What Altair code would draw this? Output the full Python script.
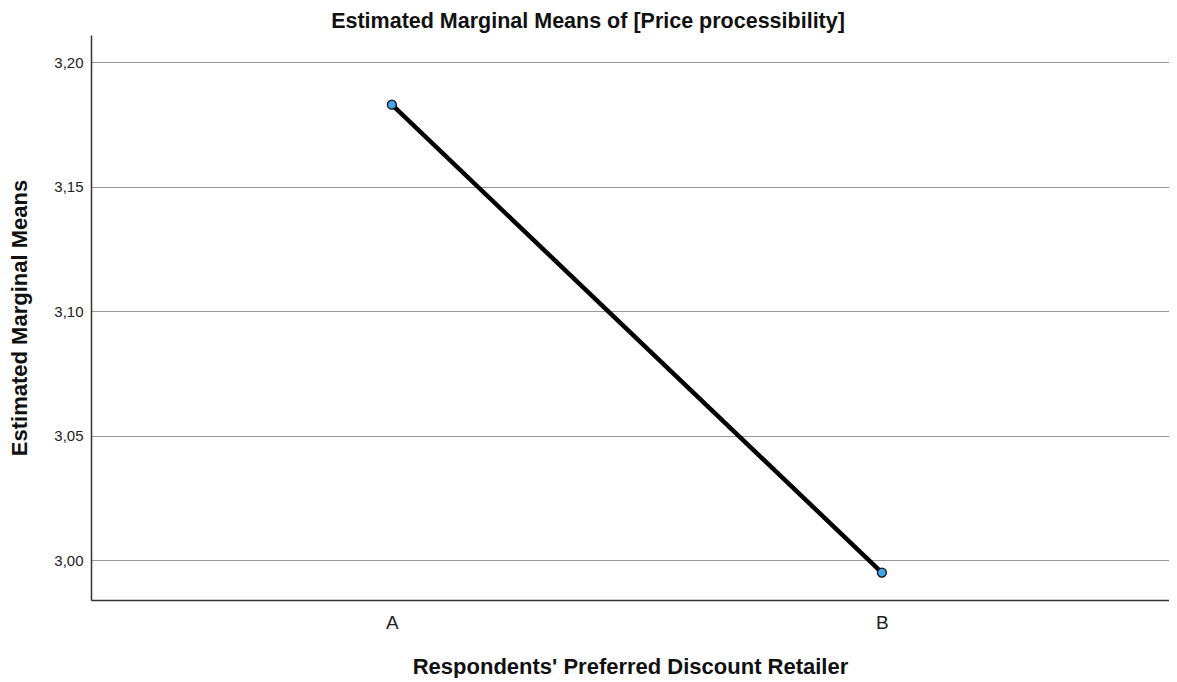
import altair as alt
import pandas as pd

retailers = ["A", "B"]
means = [3.183, 2.995]

df = pd.DataFrame({"retailer": retailers, "mean": means})

W, H = 1078, 565
FONT = "Liberation Sans"

cat_array = "[" + ",".join(f"'{r}'" for r in retailers) + "]"
label_expr = cat_array + "[datum.value]"

x_enc = alt.X("idx:Q",
              scale=alt.Scale(domain=[-0.614, 1.586], nice=False, zero=False),
              axis=alt.Axis(title="Respondents' Preferred Discount Retailer",
                            values=list(range(len(retailers))),
                            labelExpr=label_expr,
                            labelAngle=0, labelFontSize=19, labelFont=FONT,
                            labelColor="#222", labelPadding=13,
                            titleFontSize=22, titleFont=FONT, titleFontWeight="bold",
                            titleColor="#111", titlePadding=24,
                            domain=True, domainColor="#333", domainWidth=1.5,
                            ticks=False, grid=False))
y_enc = alt.Y("mean:Q",
              scale=alt.Scale(domain=[2.984, 3.211], nice=False, zero=False),
              axis=alt.Axis(title="Estimated Marginal Means",
                            values=[3.00, 3.05, 3.10, 3.15, 3.20],
                            labelExpr="replace(format(datum.value, '.2f'), '.', ',')",
                            labelFontSize=15, labelFont=FONT, labelColor="#222",
                            labelPadding=8,
                            titleFontSize=22, titleFont=FONT, titleFontWeight="bold",
                            titleColor="#111", titlePadding=22,
                            domain=True, domainColor="#333", domainWidth=1.5,
                            ticks=False, grid=True, gridColor="#999999",
                            gridWidth=1.2))

base = alt.Chart(df).transform_calculate(
    idx="indexof(" + cat_array + ", datum.retailer)"
)

line = base.mark_line(color="#000", strokeWidth=4.5).encode(x=x_enc, y=y_enc)
pts = base.mark_point(filled=True, fill="#3fa6e8", stroke="#111",
                      strokeWidth=1.3, size=80, opacity=1).encode(
    x="idx:Q", y="mean:Q")

chart = alt.layer(line, pts).properties(
    width=W, height=H,
    title=alt.TitleParams("Estimated Marginal Means of [Price processibility]",
                          font=FONT, fontSize=21.5, fontWeight="bold", color="#111",
                          anchor="middle", dx=-42, offset=3),
    padding={"left": 83, "top": 27, "right": 0, "bottom": 78},
    autosize=alt.AutoSizeParams(type="none"),
).configure_view(stroke=None)

chart.save("out.html", embed_options={"renderer": "svg", "actions": False})
